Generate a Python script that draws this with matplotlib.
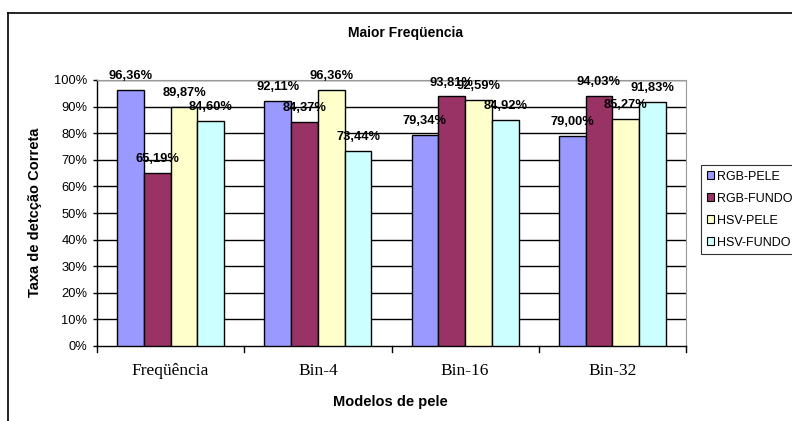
import matplotlib
matplotlib.use("Agg")
import matplotlib.pyplot as plt
from matplotlib.lines import Line2D
from matplotlib.patches import Patch
import numpy as np

categories = ["Freqüência", "Bin-4", "Bin-16", "Bin-32"]
series_names = ["RGB-PELE", "RGB-FUNDO", "HSV-PELE", "HSV-FUNDO"]
rgb_pele = [96.36, 92.11, 79.34, 79.00]
rgb_fundo = [65.19, 84.37, 93.81, 94.03]
hsv_pele = [89.87, 96.36, 92.59, 85.27]
hsv_fundo = [84.60, 73.44, 84.92, 91.83]
series_values = [rgb_pele, rgb_fundo, hsv_pele, hsv_fundo]
colors = ["#9999FF", "#993366", "#FFFFCC", "#CCFFFF"]
yticks = [0, 10, 20, 30, 40, 50, 60, 70, 80, 90, 100]

W, H = 792, 421
fig = plt.figure(figsize=(W / 100, H / 100), dpi=100)
fig.patch.set_facecolor("white")

# outer chart frame (left and top edges visible)
fig.add_artist(Line2D([8 / W, 8 / W], [0, 1 - 13 / H], color="black", lw=1.2, transform=fig.transFigure))
fig.add_artist(Line2D([8 / W, 1], [1 - 13 / H, 1 - 13 / H], color="black", lw=1.2, transform=fig.transFigure))

ax = fig.add_axes([97 / W, 75 / H, (686 - 97) / W, (346 - 80) / H])
ax.set_xlim(0, len(categories))
ax.set_ylim(0, 100)

n = len(series_names)
gap = 1.5
bw = 1.0 / (n + gap)
x0 = np.arange(len(categories)) + gap * bw / 2

for i, (name, vals, c) in enumerate(zip(series_names, series_values, colors)):
    xs = x0 + i * bw
    ax.bar(xs, vals, width=bw, align="edge", color=c, edgecolor="black", linewidth=1.0, zorder=3)
    for x, v in zip(xs, vals):
        ax.annotate(f"{v:.2f}%".replace(".", ","), (x + bw / 2, v), xytext=(0, 10),
                    textcoords="offset points", ha="center", va="center",
                    fontsize=9.3, fontweight="bold", family="Liberation Sans", zorder=5)

for y in yticks[1:]:
    ax.axhline(y, color="black", lw=1.0, zorder=1)

ax.set_yticks(yticks)
ax.set_yticklabels([f"{t}%" for t in yticks], family="Liberation Sans", fontsize=9.3)
ax.set_xticks(np.arange(len(categories)) + 0.5)
ax.set_xticklabels(categories, family="Liberation Serif", fontsize=12.5)
ax.tick_params(axis="x", length=0, pad=12)
ax.tick_params(axis="y", length=3, width=1, direction="out", pad=4)
for xb in range(len(categories) + 1):
    ax.plot([xb, xb], [0, -2.2], color="black", lw=1.0, clip_on=False, zorder=4)

ax.spines["left"].set_color("black")
ax.spines["bottom"].set_color("black")
ax.spines["left"].set_linewidth(1.0)
ax.spines["bottom"].set_linewidth(1.0)
ax.spines["top"].set_color("#999999")
ax.spines["right"].set_color("#999999")

fig.text(405 / W, 1 - 33 / H, "Maior Freqüencia", ha="center", va="center",
         fontsize=10, fontweight="bold", family="Liberation Sans")
fig.text(35 / W, 1 - 212 / H, "Taxa de detcção Correta", ha="center", va="center", rotation=90,
         fontsize=10.5, fontweight="bold", family="Liberation Sans")
fig.text(390 / W, 1 - 402 / H, "Modelos de pele", ha="center", va="center",
         fontsize=10.5, fontweight="bold", family="Liberation Sans")

handles = [Patch(facecolor=c, edgecolor="black", linewidth=0.8) for c in colors]
leg = fig.legend(handles, series_names, loc="upper left", bbox_to_anchor=(701 / W, 1 - 165 / H),
                 frameon=True, fancybox=False, edgecolor="black",
                 prop={"family": "Liberation Sans", "size": 9},
                 handlelength=0.55, handleheight=0.55, handletextpad=0.3,
                 borderpad=0.45, labelspacing=0.8, borderaxespad=0)
leg.get_frame().set_linewidth(0.8)

fig.savefig("out.png", dpi=100)
